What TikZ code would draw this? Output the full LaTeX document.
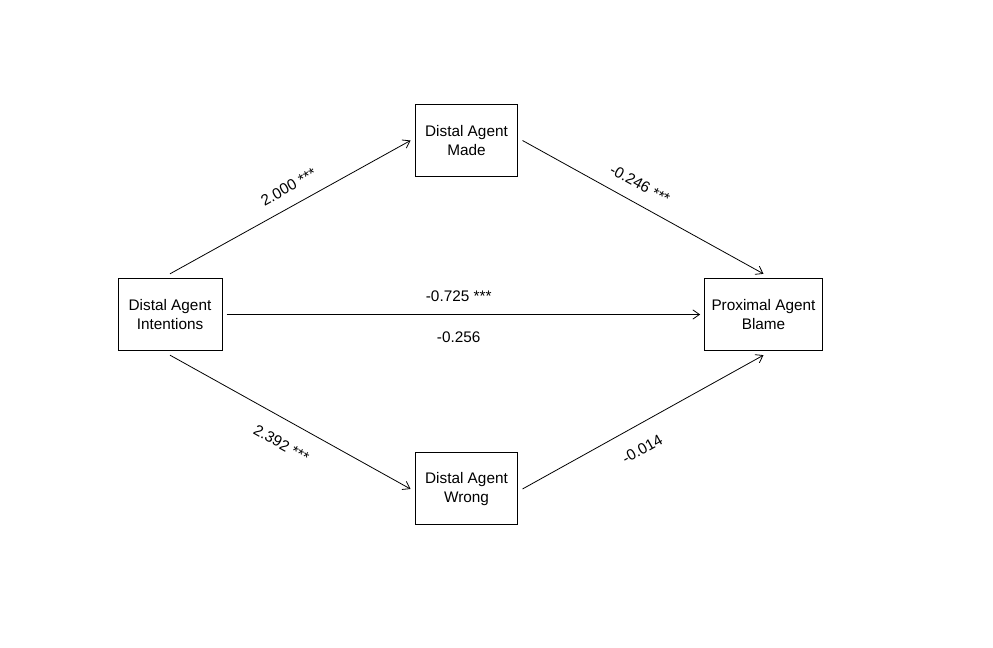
\documentclass[tikz,border=0pt]{standalone}
\usepackage{fontspec}
\setmainfont{Liberation Sans}
\usepackage{tikz}
\usetikzlibrary{arrows.meta}

\tikzset{
	varbox/.style={draw,line width=0.75pt,rectangle,align=center,minimum height=54pt,outer sep=3.5pt,inner sep=2pt},
	path/.style={-{Straight Barb[length=5pt,width=7pt]},line width=0.6pt},
	coef/.style={sloped,inner sep=2pt}
}

\begin{document}
\begin{tikzpicture}[x=0.75pt,y=-0.75pt,font=\fontsize{11.5}{14}\selectfont]

	\useasboundingbox (0,0) rectangle (993,648);

	% variables
	\node[varbox,minimum width=78pt] (intent) at (170,314.5) {Distal Agent\\Intentions};
	\node[varbox,minimum width=77pt] (made) at (466.5,140.5) {Distal Agent\\Made};
	\node[varbox,minimum width=77pt] (wrong) at (466.5,489) {Distal Agent\\Wrong};
	\node[varbox,minimum width=88pt] (blame) at (763.5,314.5) {Proximal Agent\\Blame};

	% a paths
	\draw[path] (intent.north) -- node[coef,pos=0.53,above=7.5pt] {2.000 ***} (made.west);
	\draw[path] (intent.south) -- node[coef,pos=0.51,below=11pt] {2.392 ***} (wrong.west);

	% b paths
	\draw[path] (made.east) -- node[coef,pos=0.45,above=7.5pt] {-0.246 ***} (blame.north);
	\draw[path] (wrong.east) -- node[coef,pos=0.45,below=11pt] {-0.014} (blame.south);

	% direct path
	\draw[path] (intent.east) -- node[coef,pos=0.49,above=7.5pt] {-0.725 ***} node[coef,pos=0.49,below=11pt] {-0.256} (blame.west);

\end{tikzpicture}
\end{document}
